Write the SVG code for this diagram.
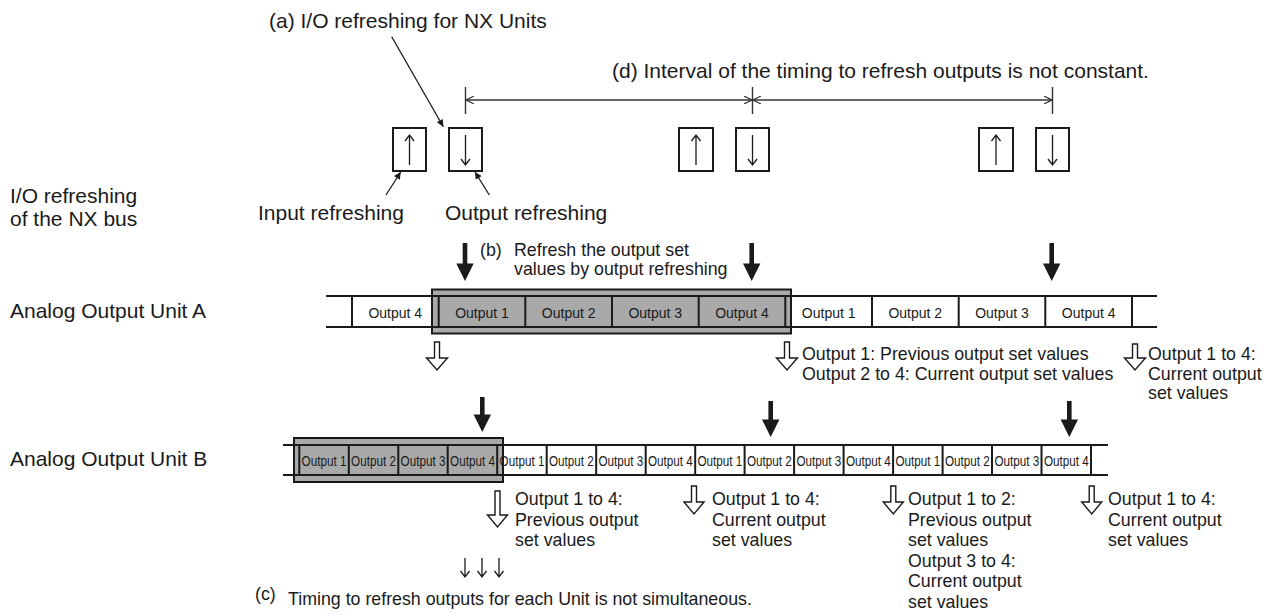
<svg xmlns="http://www.w3.org/2000/svg" width="1275" height="616" viewBox="0 0 1275 616">
<style>
text{font-family:"Liberation Sans",Arial,Helvetica,sans-serif;fill:#1a1a1a}
.big{font-size:21px}
.ann{font-size:17.8px}
.cell{font-size:14px;text-anchor:middle}
.cellb{font-size:14.6px;text-anchor:middle}
.track{stroke:#1a1a1a;stroke-width:2;fill:none}
.box{fill:#fff;stroke:#1a1a1a;stroke-width:2}
.gray{fill:#a9a9a9;stroke:#1a1a1a;stroke-width:2}
.thin{stroke:#1a1a1a;stroke-width:1.3;fill:none}
.dim{stroke:#333;stroke-width:1.4;fill:none}
.solid{fill:#1a1a1a;stroke:none}
.hollow{fill:#fff;stroke:#1a1a1a;stroke-width:1.4}
</style>
<defs>
<marker id="fill" viewBox="0 0 10 10" refX="10" refY="5" markerUnits="userSpaceOnUse" markerWidth="11" markerHeight="7" orient="auto">
<path d="M0,0 L10,5 L0,10 Z" fill="#1a1a1a"/>
</marker>
<marker id="open" viewBox="0 0 10 10" refX="10" refY="5" markerUnits="userSpaceOnUse" markerWidth="9" markerHeight="8" orient="auto-start-reverse">
<path d="M0,0 L10,5 L0,10" fill="none" stroke="#333" stroke-width="1.4"/>
</marker>
</defs>

<g id="title-a"><text class="big" x="269" y="28">(a) I/O refreshing for NX Units</text></g>
<g id="title-d"><text class="big" x="612" y="78">(d) Interval of the timing to refresh outputs is not constant.</text></g>
<g id="label-bus"><text class="big" x="10" y="203">I/O refreshing</text><text class="big" x="10" y="226">of the NX bus</text></g>
<g id="label-input"><text class="big" x="258" y="220">Input refreshing</text></g>
<g id="label-output"><text class="big" x="445" y="220">Output refreshing</text></g>
<g id="label-unitA"><text class="big" x="10" y="318">Analog Output Unit A</text></g>
<g id="label-unitB"><text class="big" x="10" y="466">Analog Output Unit B</text></g>

<g id="refresh-boxes">
<rect class="box" x="393" y="128" width="33" height="43"/>
<rect class="box" x="449" y="128" width="33" height="43"/>
<rect class="box" x="679" y="128" width="34" height="43"/>
<rect class="box" x="736" y="128" width="33" height="43"/>
<rect class="box" x="979" y="128" width="34" height="43"/>
<rect class="box" x="1036" y="128" width="33" height="43"/>
<g class="thin">
<path d="M409.5,165 V135 M405,141 L409.5,135 L414,141"/>
<path d="M465.5,135 V165 M461,159 L465.5,165 L470,159"/>
<path d="M696,165 V135 M691.5,141 L696,135 L700.5,141"/>
<path d="M752.5,135 V165 M748,159 L752.5,165 L757,159"/>
<path d="M996,165 V135 M991.5,141 L996,135 L1000.5,141"/>
<path d="M1052.5,135 V165 M1048,159 L1052.5,165 L1057,159"/>
</g>
</g>

<g id="unitA">
<rect class="gray" x="432" y="289.5" width="359" height="44"/>
<path class="track" d="M326,296 H1157 M326,327 H1157"/>
<path class="track" d="M352,296 V327 M438.7,296 V327 M525.3,296 V327 M612,296 V327 M698.7,296 V327 M785.3,296 V327 M872,296 V327 M958.7,296 V327 M1045.3,296 V327 M1132,296 V327"/>
<text class="cell" x="395.3" y="318">Output 4</text>
<text class="cell" x="482" y="318">Output 1</text>
<text class="cell" x="568.7" y="318">Output 2</text>
<text class="cell" x="655.3" y="318">Output 3</text>
<text class="cell" x="742" y="318">Output 4</text>
<text class="cell" x="828.7" y="318">Output 1</text>
<text class="cell" x="915.3" y="318">Output 2</text>
<text class="cell" x="1002" y="318">Output 3</text>
<text class="cell" x="1088.7" y="318">Output 4</text>
</g>

<g id="unitB">
<rect class="gray" x="294" y="438" width="209" height="44"/>
<path class="track" d="M283,445 H1108 M283,475 H1108"/>
<path class="track" d="M299.3,445 V475 M348.8,445 V475 M398.3,445 V475 M447.7,445 V475 M497.2,445 V475 M546.7,445 V475 M596.2,445 V475 M645.7,445 V475 M695.2,445 V475 M744.6,445 V475 M794.1,445 V475 M843.6,445 V475 M893.1,445 V475 M942.6,445 V475 M992,445 V475 M1041.5,445 V475 M1091,445 V475"/>
<text class="cellb" transform="translate(324,466) scale(0.8,1)">Output 1</text>
<text class="cellb" transform="translate(373.5,466) scale(0.8,1)">Output 2</text>
<text class="cellb" transform="translate(423,466) scale(0.8,1)">Output 3</text>
<text class="cellb" transform="translate(472.5,466) scale(0.8,1)">Output 4</text>
<text class="cellb" transform="translate(522,466) scale(0.8,1)">Output 1</text>
<text class="cellb" transform="translate(571.4,466) scale(0.8,1)">Output 2</text>
<text class="cellb" transform="translate(620.9,466) scale(0.8,1)">Output 3</text>
<text class="cellb" transform="translate(670.4,466) scale(0.8,1)">Output 4</text>
<text class="cellb" transform="translate(719.9,466) scale(0.8,1)">Output 1</text>
<text class="cellb" transform="translate(769.4,466) scale(0.8,1)">Output 2</text>
<text class="cellb" transform="translate(818.9,466) scale(0.8,1)">Output 3</text>
<text class="cellb" transform="translate(868.3,466) scale(0.8,1)">Output 4</text>
<text class="cellb" transform="translate(917.8,466) scale(0.8,1)">Output 1</text>
<text class="cellb" transform="translate(967.3,466) scale(0.8,1)">Output 2</text>
<text class="cellb" transform="translate(1016.8,466) scale(0.8,1)">Output 3</text>
<text class="cellb" transform="translate(1066.3,466) scale(0.8,1)">Output 4</text>
</g>

<g id="note-b"><text class="ann" x="480" y="256">(b)</text><text class="ann" x="514" y="256">Refresh the output set</text><text class="ann" x="514" y="275">values by output refreshing</text></g>

<g id="notes-A">
<text class="ann" x="802" y="360">Output 1: Previous output set values</text>
<text class="ann" x="802" y="379.5">Output 2 to 4: Current output set values</text>
<text class="ann" x="1148" y="360">Output 1 to 4:</text>
<text class="ann" x="1148" y="379.5">Current output</text>
<text class="ann" x="1148" y="399">set values</text>
</g>
<g id="notes-B">
<text class="ann" x="515" y="505">Output 1 to 4:</text>
<text class="ann" x="515" y="525.5">Previous output</text>
<text class="ann" x="515" y="546">set values</text>
<text class="ann" x="712" y="505">Output 1 to 4:</text>
<text class="ann" x="712" y="525.5">Current output</text>
<text class="ann" x="712" y="546">set values</text>
<text class="ann" x="908" y="505">Output 1 to 2:</text>
<text class="ann" x="908" y="525.5">Previous output</text>
<text class="ann" x="908" y="546">set values</text>
<text class="ann" x="908" y="566.5">Output 3 to 4:</text>
<text class="ann" x="908" y="587">Current output</text>
<text class="ann" x="908" y="607.5">set values</text>
<text class="ann" x="1108" y="505">Output 1 to 4:</text>
<text class="ann" x="1108" y="525.5">Current output</text>
<text class="ann" x="1108" y="546">set values</text>
</g>
<g id="note-c"><text class="ann" x="255" y="600">(c)</text><text class="ann" x="288" y="605">Timing to refresh outputs for each Unit is not simultaneous.</text></g>

<g id="connectors">
<line class="thin" x1="391.7" y1="36.7" x2="443.3" y2="126.7" marker-end="url(#fill)"/>
<line class="thin" x1="386" y1="195" x2="400.7" y2="172" marker-end="url(#fill)"/>
<line class="thin" x1="489.3" y1="195" x2="475" y2="172" marker-end="url(#fill)"/>
<path class="dim" d="M465.5,87 V114 M752.5,87 V114 M1052.5,87 V114"/>
<line class="dim" x1="466" y1="100" x2="752" y2="100" marker-start="url(#open)" marker-end="url(#open)"/>
<line class="dim" x1="753" y1="100" x2="1052" y2="100" marker-start="url(#open)" marker-end="url(#open)"/>
<path class="solid" d="M462.7,243 H467.3 V263.5 H473.7 L465,281 L456.3,263.5 H462.7 Z"/>
<path class="solid" d="M749.4,243 H754 V263.5 H760.4 L751.7,281 L743,263.5 H749.4 Z"/>
<path class="solid" d="M1049.4,243 H1054 V263.5 H1060.4 L1051.7,281 L1043,263.5 H1049.4 Z"/>
<path class="solid" d="M480,397 H484.6 V414.5 H491 L482.3,432 L473.6,414.5 H480 Z"/>
<path class="solid" d="M768.4,401 H773 V419.5 H779.4 L770.7,437 L762,419.5 H768.4 Z"/>
<path class="solid" d="M1067,401 H1071.6 V419.5 H1078 L1069.3,437 L1060.6,419.5 H1067 Z"/>
<path class="hollow" d="M434.5,342 H439.5 V358 H447.5 L437,370 L426.5,358 H434.5 Z"/>
<path class="hollow" d="M784.5,342 H789.5 V358 H797.5 L787,370 L776.5,358 H784.5 Z"/>
<path class="hollow" d="M1132.5,344 H1137.5 V358 H1145.5 L1135,370 L1124.5,358 H1132.5 Z"/>
<path class="hollow" d="M495,491 H500 V515 H507.5 L497.5,527 L487.5,515 H495 Z"/>
<path class="hollow" d="M691.5,486 H696.5 V502 H704 L694,514 L684,502 H691.5 Z"/>
<path class="hollow" d="M890.8,486 H895.8 V502 H903.3 L893.3,514 L883.3,502 H890.8 Z"/>
<path class="hollow" d="M1089.2,486 H1094.2 V502 H1101.7 L1091.7,514 L1081.7,502 H1089.2 Z"/>
<g class="thin">
<path d="M465,558 V577 M460.5,571 L465,577 L469.5,571"/>
<path d="M482,558 V577 M477.5,571 L482,577 L486.5,571"/>
<path d="M499,558 V577 M494.5,571 L499,577 L503.5,571"/>
</g>
</g>
</svg>
